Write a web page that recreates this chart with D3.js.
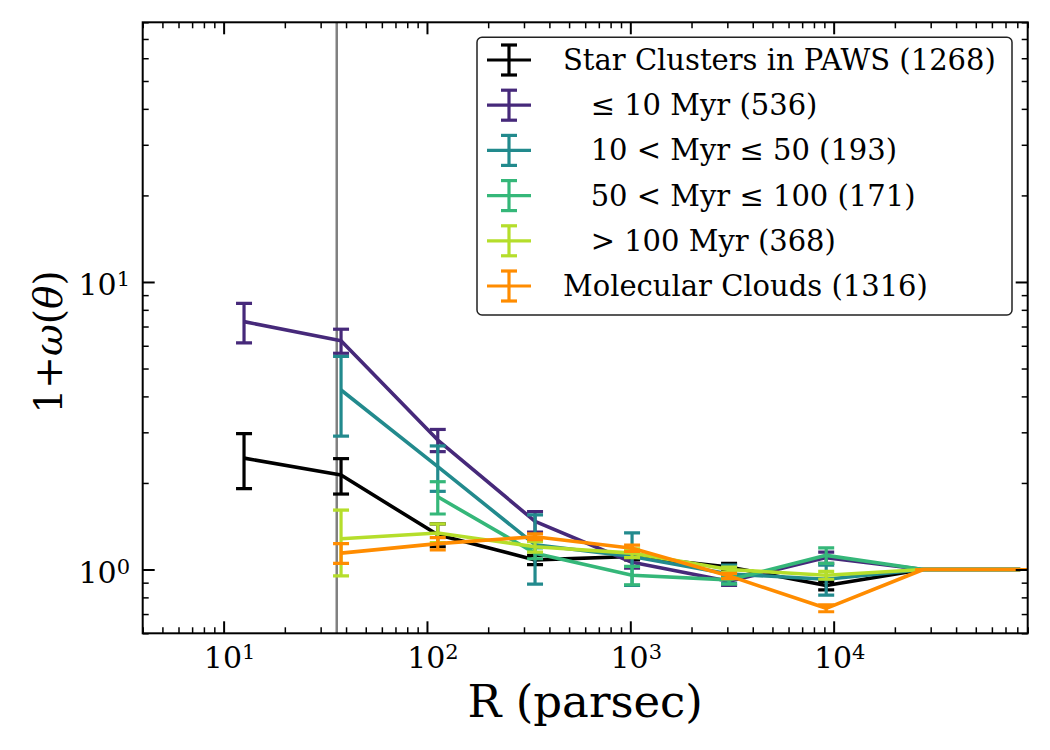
<!DOCTYPE html>
<html>
<head>
<meta charset="utf-8">
<script src="https://cdn.jsdelivr.net/npm/d3@7"></script>
<style>
  body { margin: 0; background: #fff; }
  svg { display: block; }
  text { font-family: "DejaVu Serif", serif; fill: #000; }
  .leg text { white-space: pre; }
</style>
</head>
<body>
<svg id="chart" width="1050" height="750"></svg>
<script>
// separation bins (parsec), factor of 3 apart
const radii = [12.6, 37.8, 113, 340, 1020, 3060, 9190, 27600, 82700];

// 1 + w(theta) for each sample, null = no value in that bin
const clustersY   = [2.44, 2.13, 1.32, 1.08, 1.11, 1.02, 0.88, 1.0, 1.0];
const clustersErr = [0.53, 0.30, 0.12, 0.04, 0.03, 0.03, 0.03, 0, 0];

const young10Y    = [7.28, 6.25, 2.82, 1.47, 1.06, 0.91, 1.10, 1.0, 1.0];
const young10Err  = [1.14, 0.60, 0.25, 0.12, 0.05, 0.03, 0.05, 0, 0];

const mid50Y      = [null, 4.21, 2.28, 1.22, 1.11, 0.965, 0.925, 1.0, 1.0];
const mid50Err    = [null, 1.30, 0.41, 0.33, 0.23, 0.07, 0.11, 0, 0];

const mid100Y     = [null, null, 1.79, 1.14, 0.955, 0.92, 1.12, 1.0, 1.0];
const mid100Err   = [null, null, 0.23, 0.05, 0.07, 0.03, 0.07, 0, 0];

const old100Y     = [null, 1.28, 1.34, 1.20, 1.14, 1.0, 0.955, 1.0, 1.0];
const old100Err   = [null, 0.33, 0.10, 0.05, 0.04, 0.02, 0.03, 0, 0];

const cloudsY     = [null, 1.14, 1.23, 1.30, 1.185, 0.95, 0.733, 1.0, 1.0];
const cloudsErr   = [null, 0.09, 0.06, 0.03, 0.03, 0.02, 0.02, 0, 0];

const seriesLabels = [
    "Star Clusters in PAWS (1268)",
    "   \u2264 10 Myr (536)",
    "   10 < Myr \u2264 50 (193)",
    "   50 < Myr \u2264 100 (171)",
    "   > 100 Myr (368)",
    "Molecular Clouds (1316)"
];
const seriesColors = ["#000000", "#46297a", "#228a8d", "#35b779", "#b5de2b", "#ff8c00"];
const seriesY   = [clustersY, young10Y, mid50Y, mid100Y, old100Y, cloudsY];
const seriesErr = [clustersErr, young10Err, mid50Err, mid100Err, old100Err, cloudsErr];

const resolutionLine = 36;   // grey vertical marker
const xDomain = [4, 90000];
const yDomain = [0.6, 80];
const xMajor = [10, 100, 1000, 10000];
const yMajor = [1, 10];

const svg = d3.select('#chart');
const L = 142.7, R = 1027.7, T = 22.3, B = 633.3;

const x = d3.scaleLog().domain(xDomain).range([L, R]);
const y = d3.scaleLog().domain(yDomain).range([B, T]);

svg.append('clipPath').attr('id', 'plotclip')
    .append('rect').attr('x', L).attr('y', T).attr('width', R - L).attr('height', B - T);

const plot = svg.append('g').attr('clip-path', 'url(#plotclip)');

// grey vertical line
plot.append('line')
    .attr('x1', x(resolutionLine)).attr('x2', x(resolutionLine))
    .attr('y1', T).attr('y2', B)
    .attr('stroke', '#808080').attr('stroke-width', 2.5);

const capHalf = 8;
const line = d3.line()
    .defined(d => d.v != null)
    .x(d => x(d.r))
    .y(d => y(d.v));

seriesY.forEach((vals, i) => {
    const pts = radii.map((r, k) => ({r, v: vals[k], e: seriesErr[i][k]}));
    const g = plot.append('g');
    const col = seriesColors[i];
    const valid = pts.filter(d => d.v != null);

    g.append('path').datum(pts)
        .attr('d', line)
        .attr('fill', 'none')
        .attr('stroke', col)
        .attr('stroke-width', 3.6)
        .attr('stroke-linejoin', 'round');

    // error bars
    g.selectAll('.eb').data(valid).enter().append('line')
        .attr('x1', d => x(d.r)).attr('x2', d => x(d.r))
        .attr('y1', d => y(d.v + d.e)).attr('y2', d => y(d.v - d.e))
        .attr('stroke', col).attr('stroke-width', 3.2);
    g.selectAll('.capt').data(valid).enter().append('line')
        .attr('x1', d => x(d.r) - capHalf).attr('x2', d => x(d.r) + capHalf)
        .attr('y1', d => y(d.v + d.e)).attr('y2', d => y(d.v + d.e))
        .attr('stroke', col).attr('stroke-width', 3.2);
    g.selectAll('.capb').data(valid).enter().append('line')
        .attr('x1', d => x(d.r) - capHalf).attr('x2', d => x(d.r) + capHalf)
        .attr('y1', d => y(d.v - d.e)).attr('y2', d => y(d.v - d.e))
        .attr('stroke', col).attr('stroke-width', 3.2);
});

// ticks, inward on all four sides
const xMinor = x.ticks().filter(v => !xMajor.includes(v));
const yMinor = y.ticks().filter(v => !yMajor.includes(v));

function addAxis(axisFn, scale, vals, size, tr, w) {
    const a = svg.append('g').attr('transform', tr)
        .call(axisFn(scale).tickValues(vals).tickSize(size).tickFormat(''));
    a.select('.domain').remove();
    a.selectAll('.tick line').attr('stroke', '#000').attr('stroke-width', w);
}
addAxis(d3.axisBottom, x, xMajor, -12, `translate(0,${B})`, 2);
addAxis(d3.axisBottom, x, xMinor, -6, `translate(0,${B})`, 1.5);
addAxis(d3.axisTop, x, xMajor, -12, `translate(0,${T})`, 2);
addAxis(d3.axisTop, x, xMinor, -6, `translate(0,${T})`, 1.5);
addAxis(d3.axisLeft, y, yMajor, -12, `translate(${L},0)`, 2);
addAxis(d3.axisLeft, y, yMinor, -6, `translate(${L},0)`, 1.5);
addAxis(d3.axisRight, y, yMajor, -12, `translate(${R},0)`, 2);
addAxis(d3.axisRight, y, yMinor, -6, `translate(${R},0)`, 1.5);

svg.append('rect')
    .attr('x', L).attr('y', T).attr('width', R - L).attr('height', B - T)
    .attr('fill', 'none').attr('stroke', '#000').attr('stroke-width', 2);

// tick labels 10^n
function powLabel(sel, v) {
    const e = Math.round(Math.log10(v));
    sel.append('tspan').text('10');
    sel.append('tspan').attr('dy', '-0.42em').attr('font-size', '0.7em').text(e);
}
xMajor.forEach(v => {
    svg.append('text').attr('x', x(v) + 6).attr('y', 668)
        .attr('text-anchor', 'middle').attr('font-size', 30)
        .call(powLabel, v);
});
yMajor.forEach(v => {
    svg.append('text').attr('x', 130).attr('y', y(v) + 13)
        .attr('text-anchor', 'end').attr('font-size', 30)
        .call(powLabel, v);
});

// axis labels
svg.append('text').attr('x', (L + R) / 2).attr('y', 717)
    .attr('text-anchor', 'middle').attr('font-size', 45)
    .text('R (parsec)');

const yl = svg.append('text')
    .attr('transform', `translate(62,342) rotate(-90)`)
    .attr('text-anchor', 'middle').attr('font-size', 39);
yl.append('tspan').text('1+');
yl.append('tspan').attr('font-style', 'italic').text('\u03c9');
yl.append('tspan').text('(');
yl.append('tspan').attr('font-style', 'italic').text('\u03b8');
yl.append('tspan').text(')');

// legend
const leg = svg.append('g').attr('class', 'leg');
leg.append('rect')
    .attr('x', 477).attr('y', 37.3).attr('width', 535).attr('height', 277.7)
    .attr('rx', 5).attr('fill', '#fff').attr('fill-opacity', 0.8)
    .attr('stroke', '#222').attr('stroke-width', 1.5);

seriesLabels.forEach((lab, i) => {
    const cy = 60 + i * 45.2;
    const col = seriesColors[i];
    const gi = leg.append('g');
    gi.append('line').attr('x1', 487).attr('x2', 531).attr('y1', cy).attr('y2', cy)
        .attr('stroke', col).attr('stroke-width', 3.2);
    gi.append('line').attr('x1', 509).attr('x2', 509).attr('y1', cy - 15).attr('y2', cy + 15)
        .attr('stroke', col).attr('stroke-width', 3.2);
    [cy - 15, cy + 15].forEach(yy => {
        gi.append('line').attr('x1', 509 - capHalf).attr('x2', 509 + capHalf)
            .attr('y1', yy).attr('y2', yy)
            .attr('stroke', col).attr('stroke-width', 3.2);
    });
    gi.append('text').attr('x', 563).attr('y', cy + 10)
        .attr('font-size', 29).text(lab);
});
</script>
</body>
</html>
